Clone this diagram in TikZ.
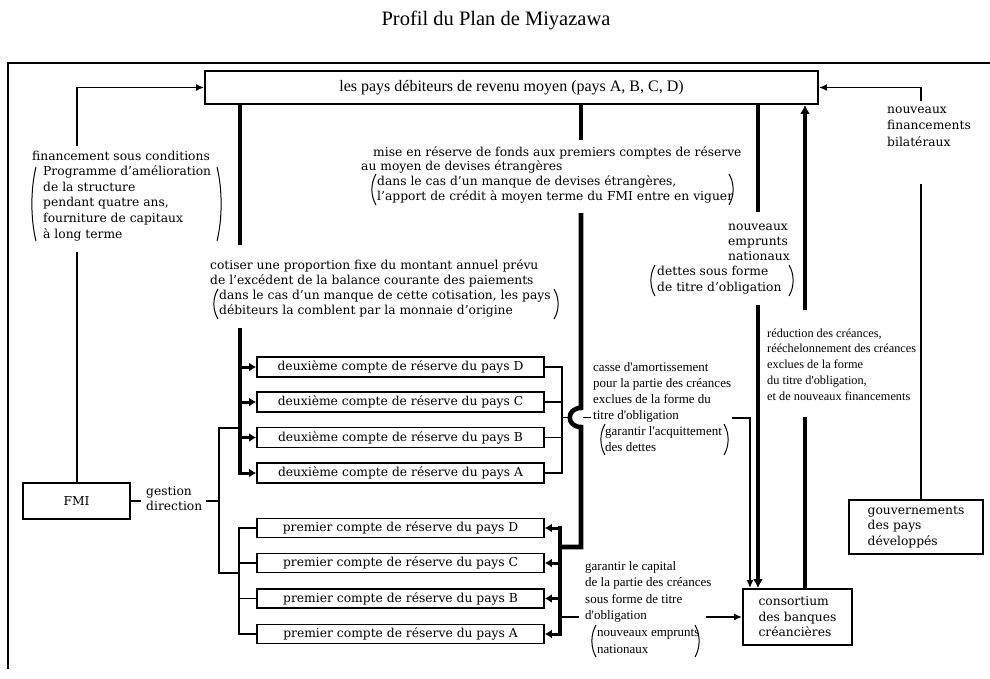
\documentclass[tikz,border=0pt]{standalone}
\usepackage{fontspec}
\setmainfont{DejaVu Serif}
\newfontfamily\nfont{Liberation Serif}
\usetikzlibrary{arrows.meta}
\newcommand\fs[2]{\fontsize{#1}{#2}\selectfont}
\newcommand\fW{\fs{12.3}{15}}
\newcommand\mlines[1]{\begin{tabular}[t]{@{}l@{}}#1\end{tabular}}
\newcommand\ParL[3]{\draw[paren] ({#1+4},#2) .. controls ({#1-1.5},{#2+0.3*(#3-#2)}) and ({#1-1.5},{#3-0.3*(#3-#2)}) .. ({#1+4},#3);}
\newcommand\ParR[3]{\draw[paren] ({#1-4},#2) .. controls ({#1+1.5},{#2+0.3*(#3-#2)}) and ({#1+1.5},{#3-0.3*(#3-#2)}) .. ({#1-4},#3);}
\begin{document}
\begin{tikzpicture}[x=1pt,y=-1pt,line join=miter,
  box/.style={draw,line width=1.8pt,inner sep=0pt,align=center},
  thinl/.style={line width=1.7pt,line cap=rect},
  thickl/.style={line width=4.6pt},
  tarr/.style={-{Latex[length=8pt,width=7pt]}},
  karr/.style={-{Latex[length=9pt,width=10pt]}},
  stub/.style={line width=3pt,-{Latex[length=7pt,width=9pt]}},
  paren/.style={line width=1pt},
  txt/.style={inner sep=0pt,anchor=base west}]
\useasboundingbox (0,0) rectangle (990,678);

% frame and title
\coordinate (F1) at (8,668); \coordinate (F2) at (8,63); \coordinate (F3) at (990,63);
\draw[thinl] (F1) -- (F2) -- (F3);
\node[inner sep=0pt] (title) at (496,20) {\nfont\fs{20.5}{24}Profil du Plan de Miyazawa};

% boxes
\node[box,minimum width=613pt,minimum height=33pt,font=\nfont\fs{16}{19}] (top) at (511.5,87.5)
  {les pays débiteurs de revenu moyen (pays A, B, C, D)};
\node[box,minimum width=107pt,minimum height=36pt,font=\fW] (fmi) at (76.5,501) {FMI};
\node[box,minimum width=134pt,minimum height=54pt,align=left,font=\fs{12.3}{15.5}] (gouv) at (916,527)
  {gouvernements\\des pays\\développés};
\node[box,minimum width=109pt,minimum height=56pt,align=left,font=\fs{12.3}{15.5}] (cons) at (797.5,617)
  {consortium\\des banques\\créancières};

\node[box,minimum width=287pt,minimum height=20pt,font=\fW] (d1) at (400.5,367) {deuxième compte de réserve du pays D};
\node[box,minimum width=287pt,minimum height=20pt,font=\fW] (d2) at (400.5,402) {deuxième compte de réserve du pays C};
\node[box,minimum width=287pt,minimum height=20pt,font=\fW] (d3) at (400.5,437.5) {deuxième compte de réserve du pays B};
\node[box,minimum width=287pt,minimum height=20pt,font=\fW] (d4) at (400.5,473) {deuxième compte de réserve du pays A};

\node[box,minimum width=287pt,minimum height=19pt,font=\fW] (p1) at (400.5,528) {premier compte de réserve du pays D};
\node[box,minimum width=287pt,minimum height=19pt,font=\fW] (p2) at (400.5,563) {premier compte de réserve du pays C};
\node[box,minimum width=287pt,minimum height=19pt,font=\fW] (p3) at (400.5,598.5) {premier compte de réserve du pays B};
\node[box,minimum width=287pt,minimum height=19pt,font=\fW] (p4) at (400.5,634) {premier compte de réserve du pays A};

% texts
\node[txt] (tfin) at (32,160) {\fs{12.3}{15.6}\mlines{financement sous conditions\\
  \hspace*{11pt}Programme d'amélioration\\\hspace*{11pt}de la structure\\
  \hspace*{11pt}pendant quatre ans,\\\hspace*{11pt}fourniture de capitaux\\\hspace*{11pt}à long terme}};
\ParL{32}{167}{241}\ParR{221}{167}{241}

\node[txt] (tmise) at (361,156) {\fs{12.3}{14.7}\mlines{\hspace*{12pt}mise en réserve de fonds aux premiers comptes de réserve\\
  au moyen de devises étrangères\\
  \hspace*{16pt}dans le cas d'un manque de devises étrangères,\\
  \hspace*{16pt}l'apport de crédit à moyen terme du FMI entre en viguer}};
\ParL{372}{174}{205}\ParR{733}{174}{205}

\node[txt] (tcot) at (210,269) {\fs{12.3}{15.3}\mlines{cotiser une proportion fixe du montant annuel prévu\\
  de l'excédent de la balance courante des paiements\\
  \hspace*{9pt}dans le cas d'un manque de cette cotisation, les pays\\
  \hspace*{9pt}débiteurs la comblent par la monnaie d'origine}};
\ParL{214}{289}{319}\ParR{558}{289}{319}

\node[txt] (temp) at (657,230) {\fs{12.3}{15.25}\mlines{\hspace*{71pt}nouveaux\\\hspace*{71pt}emprunts\\
  \hspace*{71pt}nationaux\\dettes sous forme\\de titre d'obligation}};
\ParL{651}{265}{296}\ParR{793}{265}{296}

\node[txt] (tbil) at (887,113) {\fs{12.3}{16.5}\mlines{nouveaux\\financements\\bilatéraux}};

\node[txt] (tgest) at (146,495) {\fs{12.3}{15.5}\mlines{gestion\\direction}};

\node[txt] (tcas) at (593,371) {\nfont\fs{13}{16}\mlines{casse d'amortissement\\pour la partie des créances\\
  exclues de la forme du\\titre d'obligation\\\hspace*{12pt}garantir l'acquittement\\\hspace*{12pt}des dettes}};
\ParL{601}{424}{455}\ParR{728}{424}{455}

\node[txt] (tred) at (767,337) {\nfont\fs{12.3}{15.75}\mlines{réduction des créances,\\rééchelonnement des créances\\
  exclues de la forme\\du titre d'obligation,\\et de nouveaux financements}};

\node[txt] (tgar) at (585,570) {\nfont\fs{13}{16.6}\mlines{garantir le capital\\de la partie des créances\\
  sous forme de titre\\d'obligation\\\hspace*{12pt}nouveaux emprunts\\\hspace*{12pt}nationaux}};
\ParL{592}{625}{657}\ParR{699}{625}{657}

% FMI -> top
\coordinate (L1) at (77,145); \coordinate (L2) at (77,253);
\draw[thinl] (fmi.north -| L2) -- (L2);
\draw[thinl,tarr] (L1) |- (top.west);

% gouvernements -> top
\coordinate (R1) at (921,100); \coordinate (R2) at (921,185);
\draw[thinl] (gouv.north -| R2) -- (R2);
\draw[thinl,tarr] (R1) |- (top.east);

% left thick bus to second accounts
\coordinate (B1) at (240,245); \coordinate (B2) at (240,328); \coordinate (B3) at (240,475);
\draw[thickl] (top.south -| B1) -- (B1);
\draw[thickl] (B2) -- (B3);
\foreach \n in {d1,d2,d3,d4} \draw[stub] (\n.west -| B1) -- (\n.west);

% management
\coordinate (G0) at (140,501); \coordinate (G1) at (207,501);
\coordinate (G2) at (219,428); \coordinate (G3) at (219,573); \coordinate (P0) at (239,0);
\draw[thinl] (fmi.east) -- (G0);
\draw[thinl] (G1) -- (G1 -| G2);
\draw[thinl] (B1 |- G2) -- (G2) -- (G3) -- (G3 -| P0);
\draw[thinl] (p1.west -| P0) -- (p4.west -| P0);
\foreach \n in {p1,p2,p3,p4} \draw[thinl] (\n.west -| P0) -- (\n.west);

% right thin bus of second accounts
\coordinate (D0) at (562,0);
\draw[thinl] (d1.east) -| (d4.east -| D0) -- (d4.east);
\draw[thinl] (d2.east) -- (d2.east -| D0);
\draw[thinl] (d3.east) -- (d3.east -| D0);
\coordinate (J0) at (562,417.5); \coordinate (J1) at (568,417.5);
\coordinate (J2) at (584,417.5); \coordinate (J3) at (590,417.5);
\draw[thinl] (J0) -- (J1);
\draw[thinl] (J2) -- (J3);

% middle thick line to first accounts
\coordinate (M1) at (581,140); \coordinate (M2) at (581,213); \coordinate (M3) at (581,408);
\coordinate (M4) at (581,427); \coordinate (M5) at (581,547); \coordinate (Q0) at (560,0);
\draw[thickl] (top.south -| M1) -- (M1);
\draw[thickl] (M2) -- (M3) .. controls (566,408) and (566,427) .. (M4) -- (M5) -- (M5 -| Q0);
\coordinate (Q1) at (560,525.8); \coordinate (Q2) at (560,636.2);
\draw[thickl] (Q1) -- (Q2);
\foreach \n in {p1,p2,p3,p4} \draw[stub] (\n.east -| Q0) -- (\n.east);

% guarantee of capital
\coordinate (O1) at (578,617); \coordinate (O2) at (707,617);
\draw[thinl] (O1 -| Q0) -- (O1);
\draw[thinl,tarr] (O2) -- (cons.west);

% sinking fund line
\coordinate (K1) at (733,418); \coordinate (K2) at (750,0);
\draw[thinl,tarr] (K1) -| (K2 |- cons.north);

% new national loans
\coordinate (N1) at (758,212); \coordinate (N2) at (758,305);
\draw[thickl] (top.south -| N1) -- (N1);
\draw[thickl,karr] (N2) -- (N2 |- cons.north);

% reduction of claims
\coordinate (U1) at (805,417); \coordinate (U2) at (805,310);
\draw[thickl] (cons.north -| U1) -- (U1);
\draw[thickl,karr] (U2) -- (U2 |- top.south);
\end{tikzpicture}
\end{document}
